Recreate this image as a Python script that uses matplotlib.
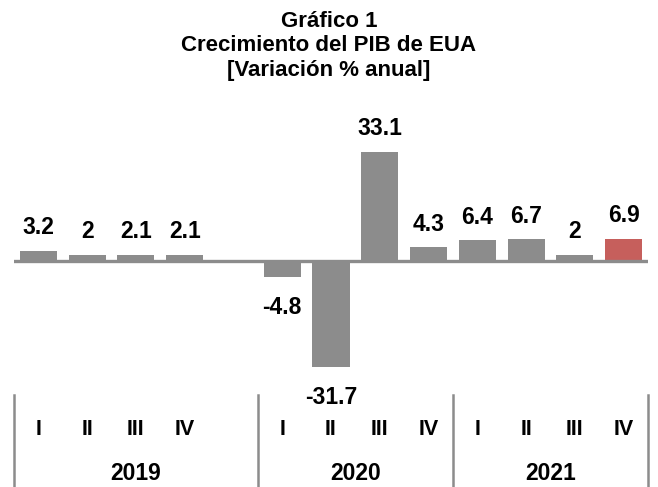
import numpy as np
import matplotlib
matplotlib.use("Agg")
import matplotlib.pyplot as plt
import matplotlib.transforms as mtransforms

plt.rcParams['font.family'] = ['Liberation Sans', 'DejaVu Sans']
plt.rcParams['font.weight'] = 'bold'

# data
years = ['2019', '2020', '2021']
quarters = ['I', 'II', 'III', 'IV']
pib_2019 = [3.2, 2, 2.1, 2.1]
pib_2020 = [-4.8, -31.7, 33.1, 4.3]
pib_2021 = [6.4, 6.7, 2, 6.9]
title_lines = ['Gráfico 1', 'Crecimiento del PIB de EUA', '[Variación % anual]']

gray = '#8c8c8c'
red = '#c65f5c'

# slot positions (empty slot after 2019, as in the original)
x_2019 = np.arange(0, 4)
x_2020 = np.arange(5, 9)
x_2021 = np.arange(9, 13)
xs = np.concatenate([x_2019, x_2020, x_2021])
vals = pib_2019 + pib_2020 + pib_2021
cols = [gray] * (len(vals) - 1) + [red]

W, H = 658, 487
fig = plt.figure(figsize=(W / 100, H / 100), dpi=100)
ax = fig.add_axes([14 / W, 1 - 395 / H, 634 / W, 295 / H])

ax.bar(xs, vals, width=0.76, color=cols, zorder=2)
ax.axhline(0, color=gray, lw=2.4, zorder=3)
ax.set_xlim(-0.5, 12.5)
ax.set_ylim(-(395 - 261.5) / 3.32, (261.5 - 100) / 3.32)
ax.axis('off')

for x, v in zip(xs, vals):
    lab = '%g' % v
    if v >= 0:
        ax.annotate(lab, (x, v), xytext=(0, 16.5), textcoords='offset pixels',
                    ha='center', va='baseline', fontsize=16.5, fontweight='bold')
    else:
        ax.annotate(lab, (x, v), xytext=(0, -37), textcoords='offset pixels',
                    ha='center', va='baseline', fontsize=16.5, fontweight='bold',
                    annotation_clip=False)

# bottom category area
trans = mtransforms.blended_transform_factory(ax.transData, fig.transFigure)
for sx in [-0.5, 4.5, 8.5, 12.5]:
    ax.plot([sx, sx], [1 - 395 / H, 0], color=gray, lw=1.8, transform=trans,
            clip_on=False)

for grp in [x_2019, x_2020, x_2021]:
    for x, q in zip(grp, quarters):
        ax.text(x, 1 - 435 / H, q, transform=trans, ha='center', va='baseline',
                fontsize=15.5, fontweight='bold')

year_spans = [(-0.5, 4.5), (4.5, 8.5), (8.5, 12.5)]
for (a, b), yr in zip(year_spans, years):
    ax.text((a + b) / 2, 1 - 480 / H, yr, transform=trans, ha='center',
            va='baseline', fontsize=16.5, fontweight='bold')

for yb, t in zip([27, 51, 76], title_lines):
    fig.text(0.5, 1 - yb / H, t, ha='center', va='baseline', fontsize=16,
             fontweight='bold')

fig.savefig('out.png', dpi=100)
